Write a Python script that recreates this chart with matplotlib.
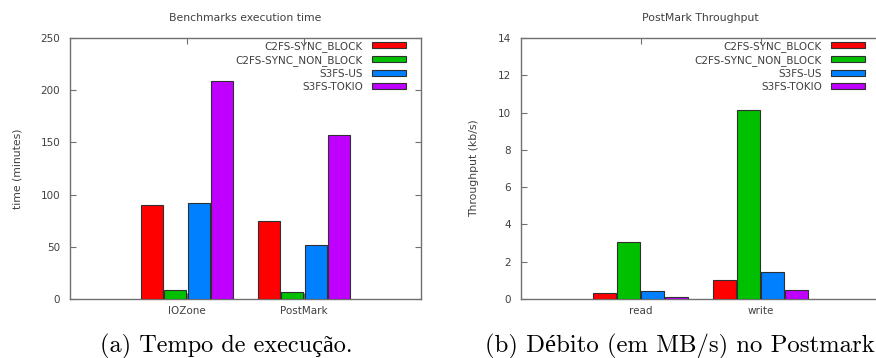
import matplotlib
matplotlib.use("Agg")
import matplotlib.pyplot as plt
from matplotlib.patches import Patch
import numpy as np

### data
series = ["C2FS-SYNC_BLOCK", "C2FS-SYNC_NON_BLOCK", "S3FS-US", "S3FS-TOKIO"]
colors = ["#ff0000", "#00c000", "#0080ff", "#c000ff"]

time_cats = ["IOZone", "PostMark"]
time_vals = [
    [90, 75],     # C2FS-SYNC_BLOCK
    [8.3, 6.4],   # C2FS-SYNC_NON_BLOCK
    [92, 52],     # S3FS-US
    [209, 157.5], # S3FS-TOKIO
]

tput_cats = ["read", "write"]
tput_vals = [
    [0.30, 1.00],
    [3.07, 10.14],
    [0.41, 1.43],
    [0.11, 0.47],
]

grey = "#707070"
txt = "#404040"
fs = 7.5


def draw_panel(ax, cats, vals, ymax, ystep, title, ylabel, right_ticks=True):
    x = np.arange(len(cats))
    offsets = [-0.3, -0.1, 0.1, 0.3]
    for i, s in enumerate(series):
        ax.bar(x + offsets[i], vals[i], width=0.185, color=colors[i],
               edgecolor="#303030", linewidth=0.8, zorder=3)
    ax.set_xlim(-1, 2)
    ax.set_ylim(0, ymax)
    ax.set_yticks(np.arange(0, ymax + 0.01, ystep))
    ax.set_xticks(x)
    ax.set_xticklabels(cats)
    ax.tick_params(axis="both", direction="in", length=4, width=0.8,
                   color=grey, labelcolor=txt, labelsize=fs)
    ax.tick_params(axis="y", right=right_ticks, pad=7)
    ax.tick_params(axis="x", top=True, pad=5, labelsize=7.5)
    for sp in ax.spines.values():
        sp.set_color(grey)
        sp.set_linewidth(1.0)
    if not right_ticks:
        ax.spines["right"].set_visible(False)
    ax.set_title(title, fontsize=7.8, color=txt, pad=12)
    ax.set_ylabel(ylabel, fontsize=7.8, color=txt, labelpad=13)

    handles = [Patch(facecolor=c, edgecolor="#303030", linewidth=0.8) for c in colors]
    leg = ax.legend(handles, series, loc="upper right", bbox_to_anchor=(0.956, 0.99),
                    frameon=False, markerfirst=False, fontsize=fs,
                    handlelength=3.2, handleheight=0.5, handletextpad=0.9,
                    labelspacing=0.3, borderpad=0, borderaxespad=0)
    for t in leg.get_texts():
        t.set_color(txt)


fig = plt.figure(figsize=(8.76, 3.58), dpi=100)
ax1 = fig.add_axes([0.0799, 0.1648, 0.4007, 0.729])
ax2 = fig.add_axes([0.5942, 0.1648, 0.4110, 0.729])

draw_panel(ax1, time_cats, time_vals, 250, 50, "Benchmarks execution time", "time (minutes)")
draw_panel(ax2, tput_cats, tput_vals, 14, 2, "PostMark Throughput", "Throughput (kb/s)",
           right_ticks=False)

cap_font = ["cmr10", "Liberation Serif"]
fig.text(0.2585, 0.032, "(a) Tempo de execução.", family=cap_font, fontsize=17.5,
         ha="center", va="center")
fig.text(0.7765, 0.032, "(b) Débito (em MB/s) no Postmark", family=cap_font, fontsize=17.8,
         ha="center", va="center")

plt.savefig("out.png", dpi=100)
plt.close()
